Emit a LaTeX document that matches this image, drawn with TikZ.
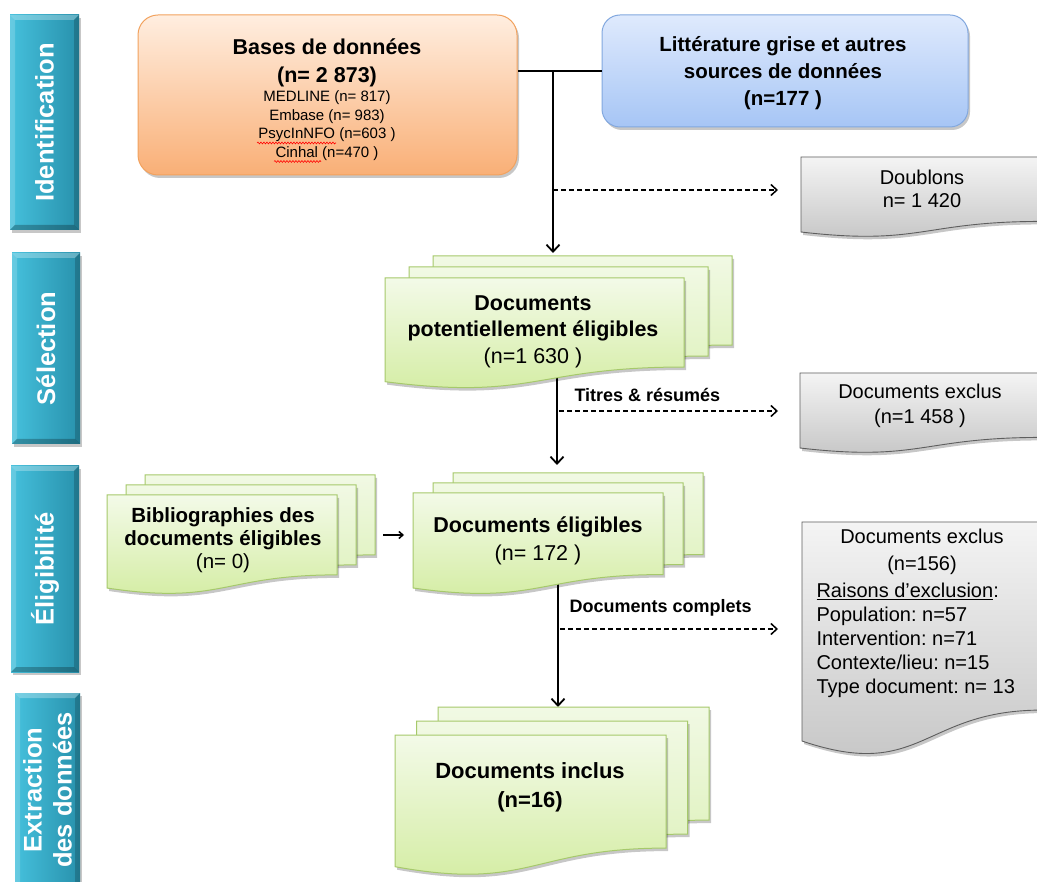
\documentclass[tikz,border=0pt]{standalone}
\usepackage{fontspec}
\setmainfont{Liberation Sans}
\usetikzlibrary{arrows.meta,shadows,decorations.pathmorphing,fit}
\frenchspacing

\definecolor{tealL}{HTML}{45C0DC}
\definecolor{tealR}{HTML}{2891AC}
\definecolor{orTop}{HTML}{FFEEE0}
\definecolor{orBot}{HTML}{F9AF76}
\definecolor{orLine}{HTML}{F2A25E}
\definecolor{blTop}{HTML}{DFEAFD}
\definecolor{blBot}{HTML}{A6C5F5}
\definecolor{blLine}{HTML}{82A8DF}
\definecolor{grTop}{HTML}{F4F4F4}
\definecolor{grBot}{HTML}{C3C3C3}
\definecolor{grLine}{HTML}{5E5E5E}
\definecolor{pgTop}{HTML}{F3FAE8}
\definecolor{pgBot}{HTML}{D2EC9F}
\definecolor{pgbTop}{HTML}{F1F9E4}
\definecolor{pgbBot}{HTML}{DDF1BA}
\definecolor{pgLine}{HTML}{A6C96B}

\tikzset{
  softshadow/.style={drop shadow={shadow xshift=2pt,shadow yshift=-3pt,opacity=.22,fill=black}},
  greenpage/.style={draw=pgLine,line width=1pt,top color=pgTop,bottom color=pgBot,softshadow},
  backpage/.style={draw=pgLine,line width=1pt,top color=pgbTop,bottom color=pgbBot,softshadow},
  greypage/.style={draw=grLine,line width=.9pt,top color=grTop,bottom color=grBot,softshadow},
  basesbox/.style={draw=orLine,line width=1pt,rounded corners=20pt,top color=orTop,bottom color=orBot,
    minimum width=379pt,minimum height=160pt,softshadow},
  litbox/.style={draw=blLine,line width=1pt,rounded corners=18pt,top color=blTop,bottom color=blBot,
    minimum width=366pt,minimum height=112pt,softshadow},
  bartext/.style={rotate=90,text=white,align=center,font=\fontsize{25.5}{30}\selectfont\bfseries},
  anchorbox/.style={inner sep=0pt,outer sep=0pt},
  boldtxt/.style={align=center,font=\fontsize{21.5}{27}\selectfont\bfseries},
  mixtxt/.style={align=center,font=\fontsize{21.5}{26.5}\selectfont},
  greytxt/.style={align=center,font=\fontsize{20}{24}\selectfont},
  lbl/.style={anchor=west,font=\fontsize{18}{21}\selectfont\bfseries},
  solidarrow/.style={line width=1.8pt,-{Straight Barb[length=7pt,width=13pt,line width=1.8pt]}},
  dasharrow/.style={line width=1.5pt,dash pattern=on 5pt off 3pt,-{Straight Barb[length=6pt,width=11pt,line width=1.5pt]}},
  plainline/.style={line width=1.8pt},
  squig/.style={red,line width=.6pt,decorate,decoration={snake,amplitude=.9pt,segment length=3pt}}
}

% document page: style, x0, y0, w, h
\newcommand\docpage[5]{%
  \path[#1] ({#2},{#3}) -- ({#2+#4},{#3}) -- ({#2+#4},{#3+0.802*#5})
    .. controls ({#2+0.5*#4},{#3+0.802*#5}) and ({#2+0.5*#4},{#3+1.1075*#5}) .. ({#2},{#3+0.934*#5}) -- cycle;}
% stack of three pages: name, x0, y0, w, h, dx, dy
\newcommand\docstack[7]{%
  \docpage{backpage}{#2+2*#6}{#3-2*#7}{#4}{#5}
  \docpage{backpage}{#2+#6}{#3-#7}{#4}{#5}
  \docpage{greenpage}{#2}{#3}{#4}{#5}
  \node[anchorbox,fit={({#2},{#3}) ({#2+#4},{#3+0.802*#5})}] (#1) {};
  \node[anchorbox,fit={({#2+2*#6},{#3-2*#7}) ({#2+2*#6+#4},{#3-2*#7+0.802*#5})}] (#1b) {};}
% side bar: name, x0, y0, x1, y1, text
\newcommand\sidebar[6]{%
  \fill[left color=tealL,right color=tealR,softshadow] (#2,#3) rectangle (#4,#5);
  \fill[white,opacity=.28] (#2,#3) -- (#4,#3) -- ({#4-5},{#3+5}) -- ({#2+5},{#3+5}) -- cycle;
  \fill[white,opacity=.18] (#2,#3) -- ({#2+5},{#3+5}) -- ({#2+5},{#5-5}) -- (#2,#5) -- cycle;
  \fill[black,opacity=.18] (#4,#3) -- (#4,#5) -- ({#4-5},{#5-5}) -- ({#4-5},{#3+5}) -- cycle;
  \fill[black,opacity=.25] (#2,#5) -- (#4,#5) -- ({#4-5},{#5-5}) -- ({#2+5},{#5-5}) -- cycle;
  \node[bartext] (#1) at ({(#2+#4)/2},{(#3+#5)/2}) {#6};}

\begin{document}
\begin{tikzpicture}[x=1pt,y=-1pt]
\useasboundingbox (0,0) rectangle (1037,882);
\clip (0,0) rectangle (1037,882);
\fill[white] (0,0) rectangle (1037,882);

% ---- side bars
\sidebar{barA}{10}{15}{79}{230}{Identification}
\sidebar{barB}{12}{253}{80}{444}{Sélection}
\sidebar{barC}{11}{466}{79}{672}{Éligibilité}
\sidebar{barD}{15}{693}{80}{887}{Extraction\\des données}

% ---- top boxes
\node[basesbox] (bases) at (327.5,95) {};
\node[litbox] (lit) at (785,71) {};

% ---- anchor nodes for grey pages (drawn later)
\node[anchorbox,fit={(801,157) (1042,221)}] (doub) {};
\node[anchorbox,fit={(800,373) (1042,437)}] (exa) {};
\node[anchorbox,fit={(802,522) (1042,710)}] (exb) {};

% ---- connectors (drawn below the shapes)
\coordinate (J) at (553,71);
\draw[plainline] (lit.west) -- (lit.west -| bases.east);
\draw[solidarrow,shorten >=3pt] (J) -- (553,256);
\draw[dasharrow,shorten >=23pt] (553,190) -- (doub.west |- 0,190);
\draw[solidarrow,shorten >=8pt] (557,360) -- (557,473);
\draw[dasharrow,shorten >=22pt] (559,411) -- (exa.west |- 0,411);
\draw[solidarrow,shorten >=0pt] (558,570) -- (558,707);
\draw[dasharrow,shorten >=24pt] (560,629) -- (exb.west |- 0,629);

% ---- stacks
\docstack{sa}{385}{278}{299}{111}{24}{11}
\docstack{sb}{413}{493}{250}{101.7}{20}{10}
\docstack{bib}{107}{495}{230}{99.6}{19}{10}
\docstack{sc}{395}{735}{271}{141}{21.5}{14}

\draw[line width=1.5pt,-{Straight Barb[length=4pt,width=7pt,line width=1.5pt]},shorten <=8pt,shorten >=9pt]
  (bibb.east |- 0,535) -- (sb.west |- 0,535);

% ---- grey pages
\docpage{greypage}{801}{157}{241}{80.3}
\docpage{greypage}{800}{373}{242}{80.3}
\docpage{greypage}{802}{522}{240}{234.5}

% ---- texts
\node[align=center,font=\fontsize{21.5}{28.5}\selectfont\bfseries] (basesT) at (327,63) {Bases de données\\(n= 2 873)};
\node[align=center,font=\fontsize{15}{18.5}\selectfont] (basesL) at (327,125.5)
  {MEDLINE (n= 817)\\Embase (n= 983)\\PsycInNFO (n=603 )\\Cinhal (n=470 )};
\draw[squig] (257,143) -- (336,143);
\draw[squig] (274,161.5) -- (321,161.5);
\node[boldtxt,font=\fontsize{20.5}{27}\selectfont\bfseries] (litT) at (783,73)
  {Littérature grise et autres\\sources de données\\(n=177 )};

\node[greytxt,font=\fontsize{20}{23}\selectfont] (doubT) at (922,188.5) {Doublons\\n= 1 420};
\node[greytxt,font=\fontsize{20}{25}\selectfont] (exaT) at (920,405.5) {Documents exclus\\(n=1 458 )};
\node[greytxt,font=\fontsize{20}{27}\selectfont] (exbT) at (922,551.5) {Documents exclus\\(n=156)};
\node[anchor=west,align=left,font=\fontsize{20}{24}\selectfont] (exbL) at (813,640.5)
  {\underline{Raisons d’exclusion}:\\Population: n=57\\Intervention: n=71\\Contexte/lieu: n=15\\Type document: n= 13};

\node[mixtxt] (saT) at (533,331.5) {\textbf{Documents}\\\textbf{potentiellement éligibles}\\(n=1 630 )};
\node[mixtxt,font=\fontsize{21.5}{28}\selectfont] (sbT) at (538,541) {\textbf{Documents éligibles}\\(n= 172 )};
\node[mixtxt,font=\fontsize{20.5}{23}\selectfont] (bibT) at (223,540) {\textbf{Bibliographies des}\\\textbf{documents éligibles}\\(n= 0)};
\node[boldtxt,font=\fontsize{22}{29}\selectfont\bfseries] (scT) at (530,787.5) {Documents inclus\\(n=16)};

\node[lbl] (labA) at (571,395) {Titres \& résumés};
\node[lbl] (labB) at (566,608) {Documents complets};
\end{tikzpicture}
\end{document}
